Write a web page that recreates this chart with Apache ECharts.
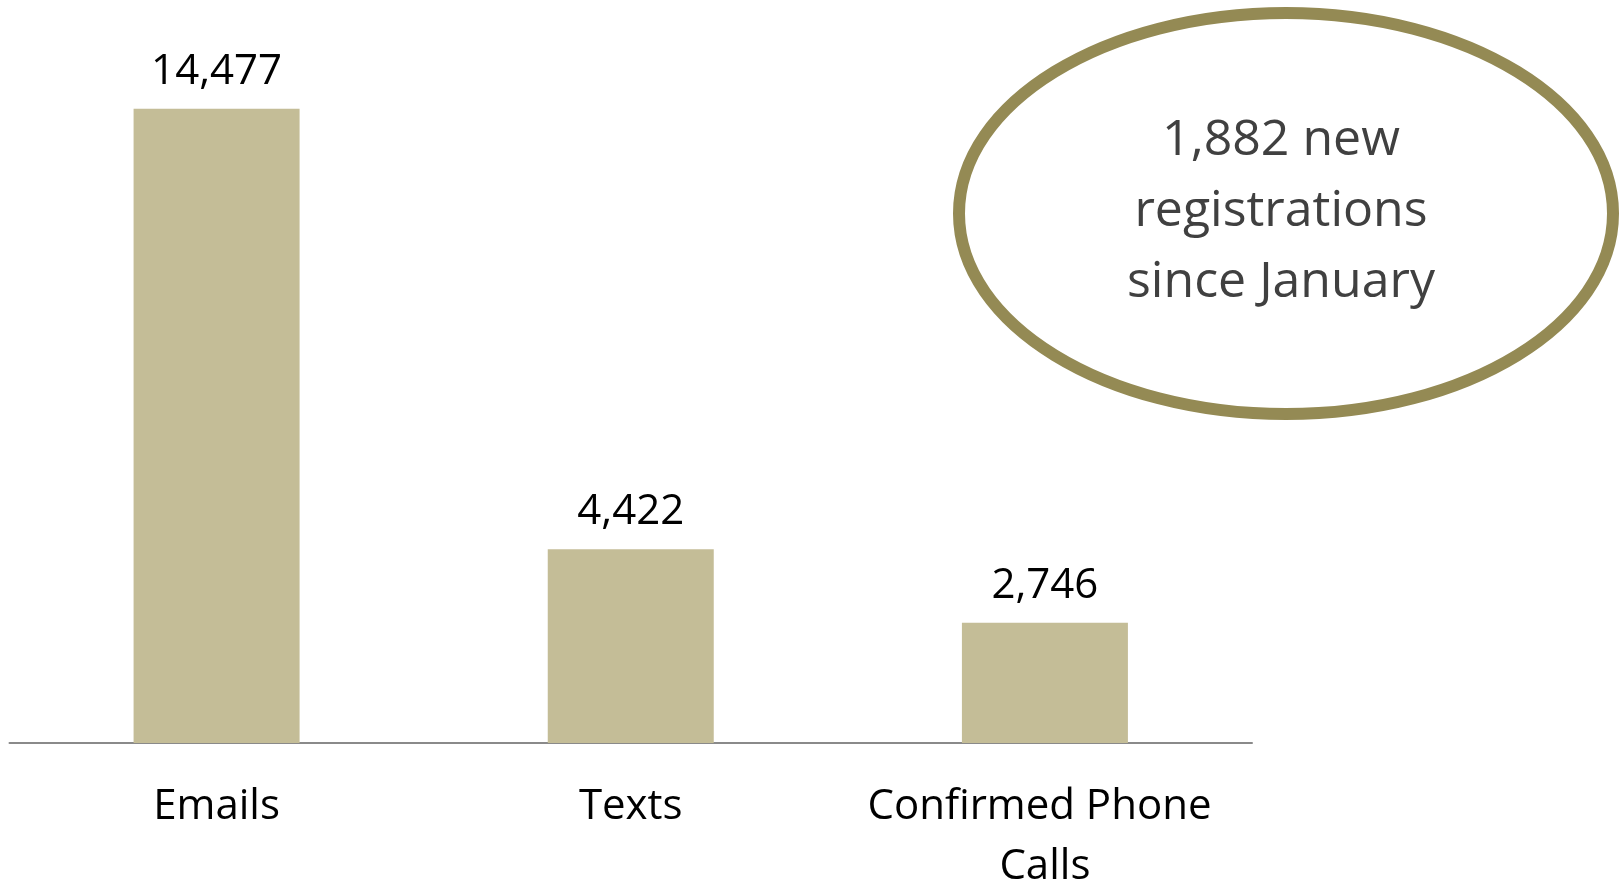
<!DOCTYPE html>
<html>
<head>
<meta charset="utf-8">
<script src="https://cdn.jsdelivr.net/npm/echarts@6/dist/echarts.min.js"></script>
<style>
  html, body { margin: 0; padding: 0; background: #ffffff; }
  #chart { width: 1620px; height: 882px; }
</style>
</head>
<body>
<div id="chart"></div>
<script>
const categories = ['Emails', 'Texts', 'Confirmed Phone Calls'];
const values = [14477, 4422, 2746];
const calloutLines = ['1,882 new', 'registrations', 'since January'];

const chart = echarts.init(document.getElementById('chart'), null, { renderer: 'canvas' });
const FONT = '"Open Sans", "Noto Sans", sans-serif';

chart.setOption({
  animation: false,
  backgroundColor: '#ffffff',
  grid: { left: 9.5, right: 368, top: 42, bottom: 139, containLabel: false, outerBoundsMode: 'none' },
  xAxis: {
    type: 'category',
    data: categories,
    axisLine: { show: true, lineStyle: { color: '#8a8a8a', width: 2 } },
    axisTick: { show: false },
    axisLabel: {
      interval: 0,
      margin: 34,
      color: '#000000',
      fontFamily: FONT,
      fontSize: 42,
      lineHeight: 60,
      width: 400,
      overflow: 'break',
      align: 'center'
    },
    splitLine: { show: false }
  },
  yAxis: {
    type: 'value',
    min: 0,
    max: 16000,
    show: false,
    splitLine: { show: false }
  },
  series: [{
    type: 'bar',
    data: values,
    barWidth: 166,
    itemStyle: { color: '#C4BD97' },
    label: {
      show: true,
      position: 'top',
      distance: 16,
      color: '#000000',
      fontFamily: FONT,
      fontSize: 42,
      formatter: p => p.value.toLocaleString('en-US')
    }
  }],
  graphic: [
    {
      type: 'ellipse',
      shape: { cx: 1286, cy: 213.5, rx: 327, ry: 200.5 },
      style: { fill: '#ffffff', stroke: '#948A54', lineWidth: 12 },
      z: 10
    },
    {
      type: 'text',
      x: 1281,
      y: 212,
      style: {
        text: calloutLines.join('\n'),
        fill: '#404040',
        font: '50px "Open Sans", "Noto Sans", sans-serif',
        lineHeight: 71,
        align: 'center',
        verticalAlign: 'middle'
      },
      z: 11
    }
  ]
});
</script>
</body>
</html>
